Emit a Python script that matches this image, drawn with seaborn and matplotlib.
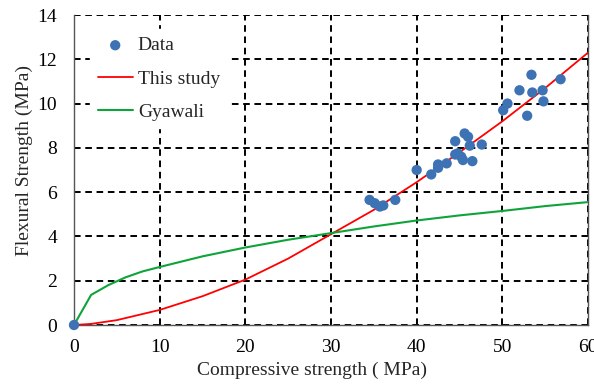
import matplotlib
matplotlib.use("Agg")
import matplotlib.pyplot as plt
import seaborn as sns
import pandas as pd

# Measured data points (compressive, flexural)
data_x = [0, 34.5, 35.1, 35.7, 36.1, 37.5, 40.0, 41.7, 42.5, 42.5, 43.5, 44.5, 44.5,
          44.8, 45.2, 45.4, 45.6, 46.0, 46.2, 46.5, 47.6, 50.1, 50.6, 52.0, 52.9,
          53.4, 53.5, 54.7, 54.8, 56.8]
data_y = [0, 5.65, 5.5, 5.35, 5.4, 5.65, 7.0, 6.8, 7.1, 7.25, 7.3, 8.3, 7.7,
          7.75, 7.6, 7.45, 8.65, 8.5, 8.1, 7.4, 8.15, 9.7, 10.0, 10.6, 9.45,
          11.3, 10.5, 10.6, 10.1, 11.1]

# "This study" curve
study_x = [0, 2, 5, 10, 15, 20, 25, 30, 35, 40, 45, 50, 55, 60]
study_y = [0, 0.05, 0.22, 0.68, 1.3, 2.05, 3.0, 4.1, 5.2, 6.45, 7.8, 9.2, 10.7, 12.3]

# "Gyawali" curve
gyawali_x = [0, 2, 4, 6, 8, 10, 15, 20, 25, 30, 35, 40, 45, 50, 55, 60]
gyawali_y = [0, 1.36, 1.8, 2.15, 2.42, 2.62, 3.1, 3.5, 3.85, 4.15, 4.45, 4.72, 4.95, 5.15, 5.37, 5.55]

x_ticks = [0, 10, 20, 30, 40, 50, 60]
y_ticks = [0, 2, 4, 6, 8, 10, 12, 14]

sns.set_style("white")
plt.rcParams['font.family'] = ['Liberation Serif', 'DejaVu Serif']

fig = plt.figure(figsize=(5.94, 3.87), dpi=100)
ax = fig.add_axes([74/594, 1-325/387, (588-74)/594, (325-15)/387])

df_data = pd.DataFrame({"x": data_x, "y": data_y})
df_study = pd.DataFrame({"x": study_x, "y": study_y})
df_gy = pd.DataFrame({"x": gyawali_x, "y": gyawali_y})

sns.lineplot(data=df_study, x="x", y="y", ax=ax, color="#FF0000", lw=1.3,
             label="This study", zorder=3, sort=False)
sns.lineplot(data=df_gy, x="x", y="y", ax=ax, color="#0EA43A", lw=1.5,
             label="Gyawali", zorder=3, sort=False)
sns.scatterplot(data=df_data, x="x", y="y", ax=ax, color="#3D72B4", s=55,
                edgecolor="none", label="Data", zorder=4, clip_on=False)

ax.set_xlim(0, 60)
ax.set_ylim(0, 14)
ax.set_xticks(x_ticks)
ax.set_yticks(y_ticks)
ax.grid(True, color="black", lw=1.4, linestyle=(0, (3.4, 2.4)), zorder=1)
ax.set_axisbelow(True)

for s in ["left", "bottom", "right"]:
    ax.spines[s].set_visible(True)
    ax.spines[s].set_color("#555555")
    ax.spines[s].set_linewidth(1.0)
ax.spines["top"].set_visible(False)

ax.tick_params(axis="x", length=0, pad=10, labelsize=14, colors="black")
ax.tick_params(axis="y", length=0, pad=12, labelsize=14, colors="black")
ax.set_xlabel("Compressive strength ( MPa)", fontsize=14)
ax.set_ylabel("Flexural Strength (MPa)", fontsize=14)
ax.xaxis.set_label_coords((312 - 74) / 514, (325 - 362) / 310)
ax.yaxis.set_label_coords((33 - 74) / 514, (325 - 160) / 310)

handles, labels = ax.get_legend_handles_labels()
order = [labels.index("Data"), labels.index("This study"), labels.index("Gyawali")]
leg = ax.legend([handles[i] for i in order], [labels[i] for i in order],
                loc="upper left", bbox_to_anchor=(0.031, 0.955), frameon=True,
                fontsize=14, handlelength=1.8, handletextpad=0.26,
                labelspacing=0.8, borderaxespad=0)
leg.get_frame().set_edgecolor("white")
leg.get_frame().set_facecolor("white")
leg.get_frame().set_alpha(1)
leg.set_zorder(5)

fig.savefig("out.png", dpi=100)
